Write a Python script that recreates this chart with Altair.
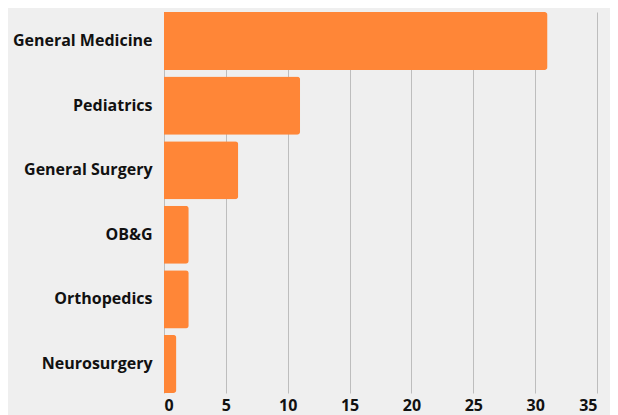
import altair as alt
import pandas as pd

departments = ["General Medicine", "Pediatrics", "General Surgery", "OB&G", "Orthopedics", "Neurosurgery"]
counts = [31, 11, 6, 2, 2, 1]

df = pd.DataFrame({"department": departments, "count": counts})

chart = alt.Chart(df).mark_bar(color="#FF8637", cornerRadiusEnd=3).encode(
    x=alt.X("count:Q", scale=alt.Scale(domain=[0, 35], nice=False),
            axis=alt.Axis(values=[0, 5, 10, 15, 20, 25, 30, 35], title=None, domain=False, ticks=False,
                          labelFont="Open Sans", labelFontWeight="bold", labelFontSize=16,
                          labelColor="#111111", labelPadding=4, gridColor="#BDBDBD", gridWidth=1)),
    y=alt.Y("department:N", sort=departments,
            scale=alt.Scale(paddingInner=0.1, paddingOuter=0),
            axis=alt.Axis(title=None, domain=False, ticks=False, grid=False,
                          labelFont="Open Sans", labelFontWeight="bold", labelFontSize=16,
                          labelColor="#111111", labelPadding=12)),
).properties(
    width=433, height=381,
    background="#EFEFEF",
    autosize=alt.AutoSizeParams(type="none"),
    padding={"left": 156, "top": 4, "right": 13, "bottom": 22},
).configure_view(stroke=None)

chart.save("out.html", embed_options={"renderer": "svg", "actions": False})
